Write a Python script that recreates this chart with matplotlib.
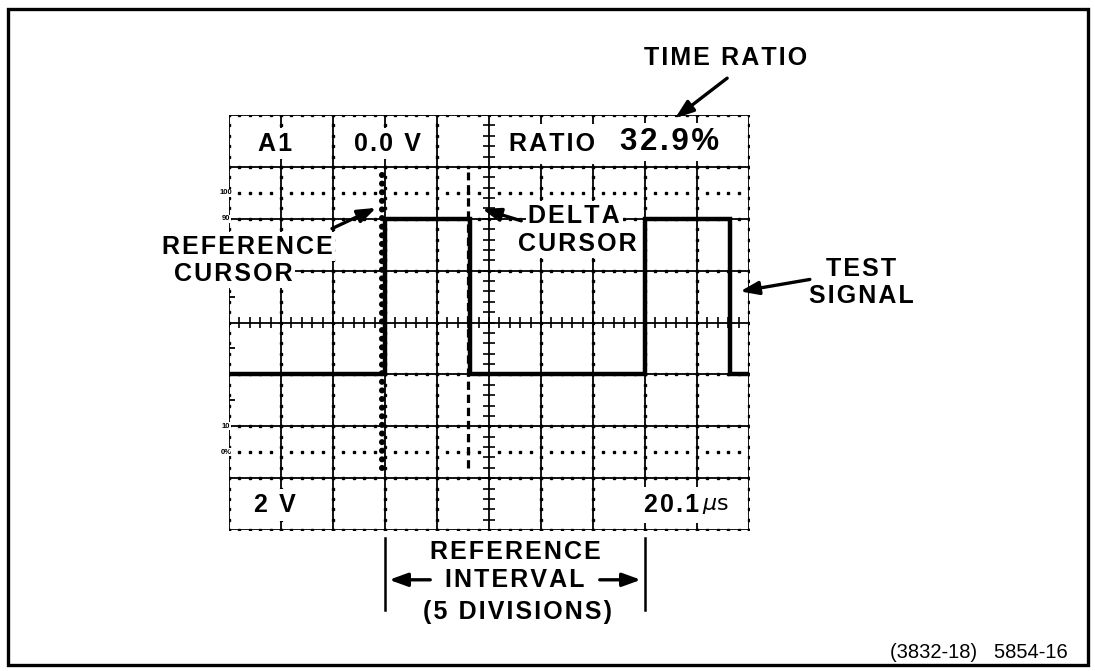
import numpy as np
import matplotlib.pyplot as plt

# --- scope trace, in graticule divisions (10 x 8) ---
edge_times = [0.0, 3.0, 4.63, 8.0, 9.63, 10.0]
edge_levels = [3, 6, 3, 6, 3, 3]

ref_cursor_x = 2.95
delta_cursor_x = 4.60
cursor_span = (1.2, 6.9)

# percent marks on the left edge of the graticule
level_marks = ["100", "90", "10", "0%"]
level_pos = [6.5, 6.0, 2.0, 1.5]
dotted_levels = [6.5, 1.5]

# readouts
top_readouts = ["A1", "0.0 V", "RATIO"]
ratio_value = "32.9%"
bottom_readouts = ["2 V", "20.1"]

FONT = "Liberation Sans"
W, H = 1095, 671


def spaced(s):
    # the original lettering is tracked out a little
    return "\u200a".join(s)


fig = plt.figure(figsize=(W / 100, H / 100), dpi=100)
ax = fig.add_axes([229 / W, 1 - 530 / H, 520 / W, 415 / H])
ax.set_xlim(0, 10)
ax.set_ylim(0, 8)
ax.axis("off")

# outer frame
fig.add_artist(plt.Rectangle((8 / W, 6 / H), (1088 - 8) / W, (662 - 6) / H,
                             transform=fig.transFigure, fill=False, lw=2.4, color="k"))

# graticule
for x in range(11):
    ax.plot([x, x], [0, 8], color="k", lw=1.3, zorder=1)
for y in range(9):
    ax.plot([0, 10], [y, y], color="k", lw=1.3, zorder=1)

xm = np.arange(0, 10.001, 0.2)
ym = np.arange(0, 8.001, 0.2)
for x in range(11):
    if x != 5:
        ax.plot(np.full(len(ym), x), ym, ls="none", marker="s", ms=1.7, color="k", zorder=1)
for y in range(9):
    if y != 4:
        ax.plot(xm, np.full(len(xm), y), ls="none", marker="s", ms=1.7, color="k", zorder=1)

# center axes with minor ticks
ax.vlines(xm, 3.9, 4.1, color="k", lw=1.2, zorder=1)
ax.hlines(ym, 4.88, 5.12, color="k", lw=1.2, zorder=1)
ax.hlines([2.5, 3.5, 4.5, 5.5], 0, 0.12, color="k", lw=1.3, zorder=1)

# 0% / 100% dotted lines
xd = [v for v in xm if abs(v - round(v)) > 0.05]
for lv in dotted_levels:
    ax.plot(xd, np.full(len(xd), lv), ls="none", marker="s", ms=1.7, color="k", zorder=1)

for lab, lv in zip(level_marks, level_pos):
    ax.text(-0.06, lv, lab, ha="center", va="center", fontsize=5.5, family=FONT,
            fontweight="bold", zorder=6,
            bbox=dict(boxstyle="square,pad=0.05", fc="white", ec="none"))

# test signal
ax.plot(edge_times, edge_levels, drawstyle="steps-post", color="k", lw=3.2,
        solid_joinstyle="miter", zorder=3)

# cursors
ax.plot([ref_cursor_x] * 2, cursor_span, color="k", lw=4.4, ls=(0, (0.01, 1.4)),
        dash_capstyle="round", zorder=4)
ax.plot([delta_cursor_x] * 2, cursor_span, color="k", lw=2.3, ls=(0, (2.6, 1.5)), zorder=4)

# readouts in the top and bottom rows
rd = dict(ha="center", va="center", fontsize=18, family=FONT, fontweight="bold", zorder=5)
box = dict(boxstyle="square,pad=0.15", fc="white", ec="none")
ax.text(0.885, 7.45, spaced(top_readouts[0]), bbox=box, **rd)
ax.text(3.04, 7.45, spaced(top_readouts[1]), bbox=box, **rd)
ax.text(6.21, 7.45, spaced(top_readouts[2]),
        bbox=dict(boxstyle="square,pad=0.32", fc="white", ec="none"), **rd)
ax.text(8.48, 7.48, spaced(ratio_value), ha="center", va="center", fontsize=22.5,
        family=FONT, fontweight="bold", bbox=dict(boxstyle="square,pad=0.14", fc="white", ec="none"),
        zorder=5)
ax.text(0.885, 0.48, spaced(bottom_readouts[0]), bbox=box, **rd)
ax.text(9.05, 0.48, spaced(bottom_readouts[1]), ha="right", va="center", fontsize=18,
        family=FONT, fontweight="bold", bbox=dict(boxstyle="square,pad=0.25", fc="white", ec="none"),
        zorder=5)
ax.text(9.1, 0.46, r"$\mu\mathrm{s}$", ha="left", va="center", fontsize=16, zorder=6)

# callouts
lab = dict(ha="center", va="center", fontsize=18, family=FONT, fontweight="bold", zorder=6)
knock = dict(boxstyle="square,pad=0.1", fc="white", ec="none")
arrow = dict(arrowstyle="-|>,head_length=0.55,head_width=0.2", color="k", lw=2.4,
             mutation_scale=20, shrinkA=0, shrinkB=0)

ax.text(9.54, 9.10, spaced("TIME RATIO"), **lab)
ax.annotate("", xy=(8.58, 7.94), xytext=(9.58, 8.71), arrowprops=arrow, annotation_clip=False)

ax.text(0.35, 5.46, spaced("REFERENCE"), bbox=knock, **lab)
ax.text(0.08, 4.94, spaced("CURSOR"), bbox=knock, **lab)
ax.annotate("", xy=(2.83, 6.21), xytext=(1.98, 5.81), arrowprops=arrow, annotation_clip=False)

ax.text(6.64, 6.06, spaced("DELTA"), bbox=knock, **lab)
ax.text(6.69, 5.52, spaced("CURSOR"), bbox=knock, **lab)
ax.annotate("", xy=(4.87, 6.19), xytext=(5.62, 5.96), arrowprops=arrow, annotation_clip=False)

ax.text(12.15, 5.04, spaced("TEST"), **lab)
ax.text(12.17, 4.52, spaced("SIGNAL"), **lab)
ax.annotate("", xy=(9.83, 4.60), xytext=(11.17, 4.83), arrowprops=arrow, annotation_clip=False)

# reference interval bracket under the graticule
t0, t1 = edge_times[1], edge_times[3]
for t in (t0, t1):
    ax.plot([t, t], [-0.15, -1.55], color="k", lw=1.8, clip_on=False)
ax.text(5.5, -0.42, spaced("REFERENCE"), **lab)
ax.text(5.5, -0.96, spaced("INTERVAL"), **lab)
ax.text(5.54, -1.58, spaced("(5 DIVISIONS)"), **lab)
ax.annotate("", xy=(t0 + 0.08, -0.96), xytext=(3.87, -0.96), arrowprops=arrow, annotation_clip=False)
ax.annotate("", xy=(t1 - 0.08, -0.96), xytext=(7.13, -0.96), arrowprops=arrow, annotation_clip=False)

fig.text(1068 / W, 1 - 652 / H, "(3832-18)   5854-16", ha="right", va="center",
         fontsize=14.5, family=FONT)

fig.savefig("out.png", dpi=100)
